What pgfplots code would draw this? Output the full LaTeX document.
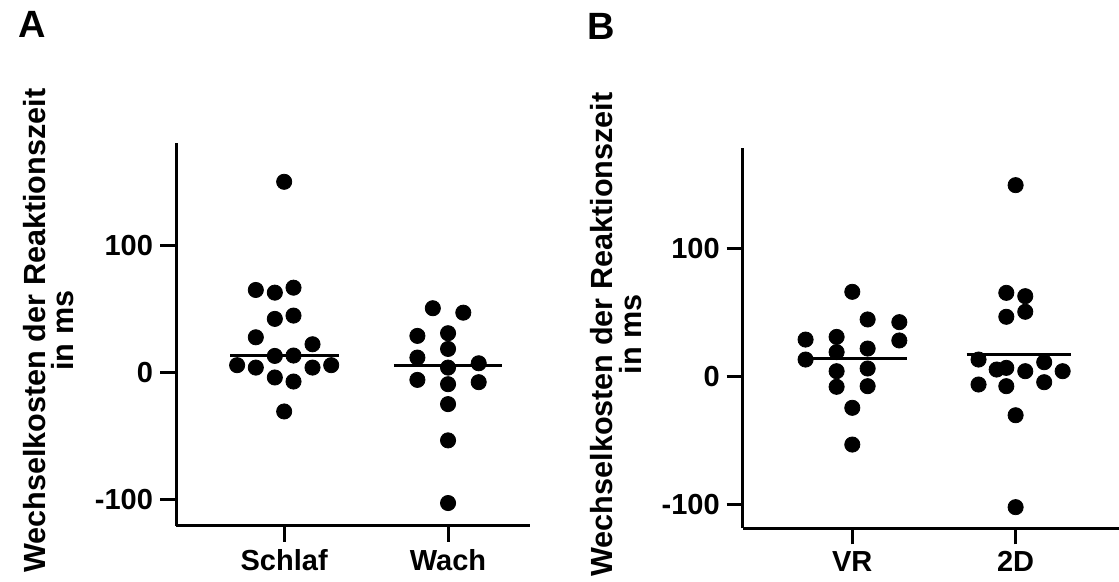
\documentclass[border=0pt]{standalone}
\usepackage{fontspec}
\setmainfont{Liberation Sans}
\usepackage{pgfplots}
\pgfplotsset{compat=1.18}

\pgfplotsset{
  dotplot/.style={
    scale only axis,
    axis x line*=bottom,
    axis y line*=left,
    axis line style={line width=1.5pt, black},
    tick style={line width=1.5pt, black},
    tick align=outside,
    major tick length=8pt,
    xtick={0,1},
    ytick={-100,0,100},
    yticklabels={-100,0,100},
    tick label style={font=\fontsize{14.5}{16}\selectfont\bfseries},
    xticklabel style={font=\fontsize{14.5}{16}\selectfont\bfseries},
    ylabel={Wechselkosten der Reaktionszeit\\in ms},
    ylabel style={align=center, font=\fontsize{15.3}{14.3}\selectfont\bfseries, anchor=center},
    clip=false,
  },
  pts/.style={only marks, mark=*, mark size=3.8pt, black},
  med/.style={black, line width=1.5pt, no marks},
}

\begin{document}
\begin{tikzpicture}

% Panel A
\begin{axis}[dotplot,
  at={(88pt,28pt)}, anchor=south west,
  width=177pt, height=191.5pt,
  xmin=-0.66, xmax=1.5, ymin=-121, ymax=181,
  xticklabels={Schlaf,Wach},
  ylabel style={at={(axis description cs:-0.36,0.51)}},
]
\addplot[pts] coordinates {
  (0,150.4) (-0.173,65.1) (-0.057,63.0) (0.057,66.9) (-0.057,42.3) (0.057,44.9)
  (-0.173,27.8) (0.173,22.3) (-0.057,13.1) (0.057,13.4) (-0.287,5.8) (-0.173,3.9)
  (0.173,3.9) (0.287,5.8) (-0.057,-3.9) (0.057,-7.1) (0,-30.7)
};
\addplot[pts] coordinates {
  (0.907,50.7) (1.093,47.2) (0.813,28.9) (1,31.0) (1,18.6) (0.813,11.8) (1,3.9)
  (1.187,7.3) (0.813,-5.8) (1,-9.2) (1.187,-7.6) (1,-24.9) (1,-53.5) (1,-102.9)
};
\addplot[med] coordinates {(-0.33,13.4) (0.333,13.4)};
\addplot[med] coordinates {(0.67,5.2) (1.33,5.2)};
\end{axis}

% Panel B
\begin{axis}[dotplot,
  at={(371.35pt,26.85pt)}, anchor=south west,
  width=188.15pt, height=190pt,
  xmin=-0.671, xmax=1.633, ymin=-118.8, ymax=178,
  xticklabels={VR,2D},
  ylabel style={at={(axis description cs:-0.337,0.51)}},
]
\addplot[pts] coordinates {
  (0,65.9) (0.094,44.3) (0.288,42.2) (-0.286,28.6) (-0.096,30.7) (0.288,27.9)
  (-0.096,18.8) (0.094,21.6) (-0.286,13.0) (-0.096,3.9) (0.094,6.0) (-0.096,-8.3)
  (0.094,-7.8) (0,-24.7) (0,-53.4)
};
\addplot[pts] coordinates {
  (1,149.2) (0.943,65.1) (1.059,62.5) (0.943,46.4) (1.059,50.3) (0.773,13.0)
  (1.175,10.9) (0.884,5.2) (0.943,6.5) (1.059,3.9) (1.288,3.9) (0.773,-6.5)
  (0.943,-7.8) (1.175,-4.7) (1,-30.5) (1,-102.3)
};
\addplot[med] coordinates {(-0.33,14.1) (0.333,14.1)};
\addplot[med] coordinates {(0.7,16.9) (1.337,16.9)};
\end{axis}

\node[font=\fontsize{19}{20}\selectfont\bfseries] at (16pt,279pt) {A};
\node[font=\fontsize{19}{20}\selectfont\bfseries] at (300.5pt,278pt) {B};

\pgfresetboundingbox
\path[use as bounding box] (0,0) rectangle (559.5pt,291pt);
\end{tikzpicture}
\end{document}
